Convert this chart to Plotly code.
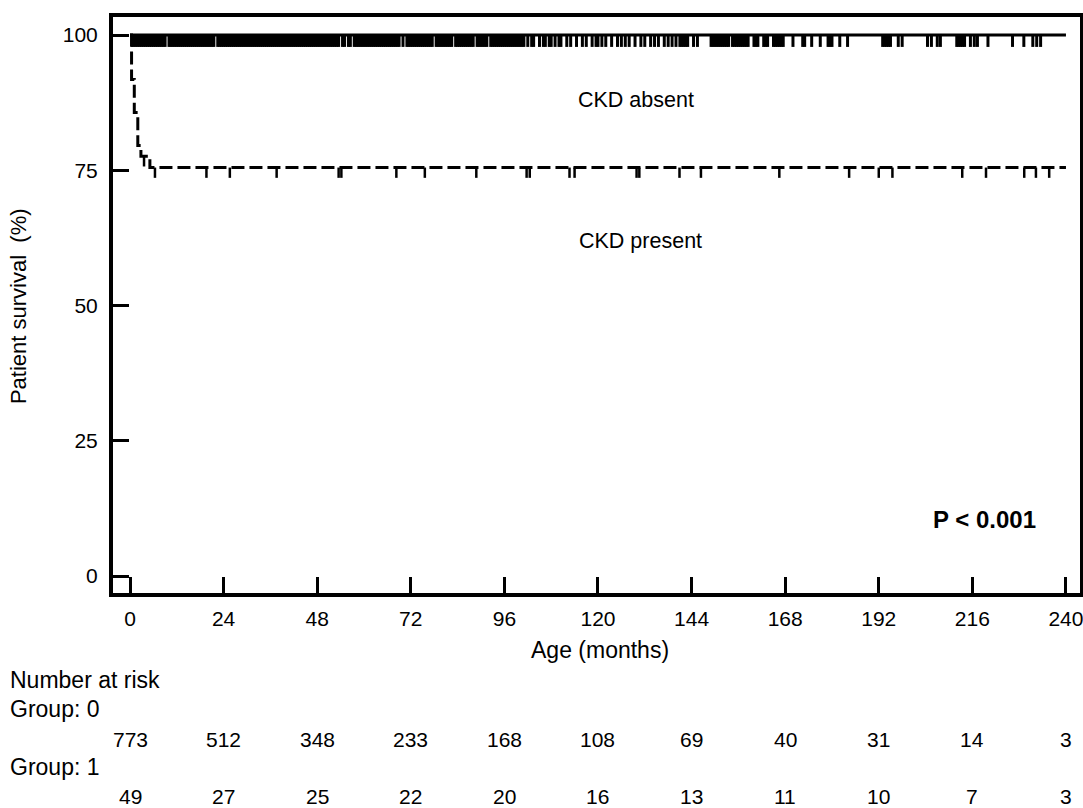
import plotly.graph_objects as go

# ---------------- data ----------------
x_ticks = [0, 24, 48, 72, 96, 120, 144, 168, 192, 216, 240]
y_ticks = [0, 25, 50, 75, 100]

# CKD absent (group 0) Kaplan-Meier curve
absent_t = [0, 240]
absent_s = [100, 100]
absent_censor = [
    0.5, 1, 1.5, 2, 2.5, 3, 3.5, 4, 4.5, 5,
    5.5, 6, 6.5, 7, 7.5, 8, 8.5, 9, 10, 10.5,
    11, 11.5, 12, 12.5, 13, 13.5, 14, 14.5, 15, 15.5,
    16, 16.5, 17, 17.5, 18, 18.5, 19, 19.5, 20, 20.5,
    21, 21.5, 22.5, 23, 23.5, 24, 24.5, 25, 25.5, 26,
    26.5, 27, 27.5, 28, 28.5, 29, 29.5, 30, 30.5, 31,
    31.5, 32, 32.5, 33, 33.5, 34, 34.5, 35, 35.5, 36,
    36.5, 37, 37.5, 38, 38.5, 39, 39.5, 40, 40.5, 41,
    41.5, 42, 42.5, 43, 43.5, 44, 44.5, 45, 45.5, 46,
    46.5, 47, 47.5, 48, 48.5, 49, 49.5, 50, 50.5, 51,
    51.5, 52, 52.5, 53, 53.5, 54.5, 55, 56, 56.5, 57.5,
    58, 58.5, 59, 59.5, 60, 60.5, 61, 61.5, 62, 62.5,
    63, 63.5, 64, 64.5, 65, 65.5, 66, 66.5, 67, 67.5,
    68, 68.5, 69, 70, 71, 71.5, 72, 72.5, 73, 73.5,
    74, 74.5, 75, 75.5, 76, 76.5, 77, 77.5, 78.5, 79,
    79.5, 80, 80.5, 81, 81.5, 82, 82.5, 83.5, 84, 84.5,
    85, 85.5, 86, 86.5, 87, 87.5, 88, 89, 89.5, 90,
    90.5, 91, 91.5, 92.5, 93, 93.5, 94, 94.5, 95, 95.5,
    96, 96.5, 97, 97.5, 98, 98.5, 99, 99.5, 100,
    100.5, 101, 102, 103, 103.5, 105, 106, 106.5, 107.5, 108,
    109, 110, 110.5, 112, 113, 114.5, 116, 117, 118.5, 119.5,
    120, 121, 122, 123.5, 125, 126, 127, 128, 129.5, 131,
    132, 133.5, 134.5, 135.5, 137, 138, 139, 140,
    141, 141.5, 142, 142.5, 143, 144.5, 145.5, 149, 149.5, 150,
    150.5, 151, 151.5, 152, 152.5, 153, 153.5, 154.5, 155, 155.5,
    156, 156.5, 157, 157.5, 158, 158.5, 160, 160.5, 161, 162.5,
    163, 163.5, 165, 165.5, 166, 166.5, 167, 167.5, 170, 172.5,
    173, 174.8, 177, 179, 179.5, 180, 182, 184,
    193, 193.5, 194, 194.5, 195, 197, 198, 204.5, 205.5, 207,
    207.8, 212, 212.5, 213, 213.5, 214, 215.5, 216.5, 217.3, 220,
    226.3, 229.2, 231.5, 232.5, 233.5,
]

# CKD present (group 1) Kaplan-Meier curve
present_t = [0, 0.4, 1.1, 2.0, 2.8, 5.1, 240]
present_s = [100, 91.8, 85.7, 79.6, 77.6, 75.5, 75.5]
present_censor = [3.6, 6.4, 19.6, 25.6, 37.6, 53.5, 54.2, 68.3, 75.6, 88.8,
                  101.7, 102.5, 112.7, 114, 129.9, 130.6, 140.9, 146.4, 166.5,
                  184.4, 192, 195.5, 213.4, 219.5, 229.3, 232.3, 235.7]

# number at risk
risk_times = [0, 24, 48, 72, 96, 120, 144, 168, 192, 216, 240]
risk_group0 = [773, 512, 348, 233, 168, 108, 69, 40, 31, 14, 3]
risk_group1 = [49, 27, 25, 22, 20, 16, 13, 11, 10, 7, 3]


def km_value(times, surv, t):
    v = surv[0]
    for ti, si in zip(times, surv):
        if ti <= t:
            v = si
    return v


FONT = "Liberation Sans, Arial, sans-serif"
FS = 21
LABEL_FS = 23
fig = go.Figure()

fig.add_trace(go.Scatter(x=absent_t, y=absent_s, mode="lines", line=dict(color="black", width=3, shape="hv"),
                         showlegend=False, hoverinfo="skip"))
fig.add_trace(go.Scatter(x=present_t, y=present_s, mode="lines",
                         line=dict(color="black", width=3, shape="hv", dash="13px,5px"),
                         showlegend=False, hoverinfo="skip"))

# censoring ticks drawn as one-sided error bars hanging below the curves
c0y = [km_value(absent_t, absent_s, t) for t in absent_censor]
fig.add_trace(go.Scatter(x=absent_censor, y=c0y, mode="markers", marker=dict(size=0.1, color="rgba(0,0,0,0)"),
                         error_y=dict(type="data", symmetric=False, array=[0] * len(c0y),
                                      arrayminus=[2.2] * len(c0y), thickness=3, width=0, color="black"),
                         showlegend=False, hoverinfo="skip"))
c1y = [km_value(present_t, present_s, t) for t in present_censor]
fig.add_trace(go.Scatter(x=present_censor, y=c1y, mode="markers", marker=dict(size=0.1, color="rgba(0,0,0,0)"),
                         error_y=dict(type="data", symmetric=False, array=[0] * len(c1y),
                                      arrayminus=[1.9] * len(c1y), thickness=2.5, width=0, color="black"),
                         showlegend=False, hoverinfo="skip"))

fig.update_layout(
    width=1083, height=808,
    margin=dict(l=113, r=3, t=17, b=215, autoexpand=False),
    paper_bgcolor="white", plot_bgcolor="white",
    font=dict(family=FONT, size=FS, color="black"),
    xaxis=dict(range=[-4.36, 243.6], tickvals=x_ticks, ticktext=[str(v) for v in x_ticks],
               ticks="inside", ticklen=16, tickwidth=3, tickcolor="black",
               showline=True, linewidth=4, linecolor="black", mirror=True,
               showgrid=False, zeroline=False, ticklabelstandoff=4, automargin=False,
               ticklabeloverflow="allow", tickfont=dict(size=FS)),
    yaxis=dict(range=[-3.14, 103.33], tickvals=y_ticks, ticktext=[str(v) for v in y_ticks],
               ticks="inside", ticklen=16, tickwidth=3, tickcolor="black",
               showline=True, linewidth=4, linecolor="black", mirror=True,
               showgrid=False, zeroline=False, ticklabelstandoff=7, automargin=False,
               ticklabeloverflow="allow", tickfont=dict(size=FS)),
)

annotations = [
    dict(x=129.7, y=88.0, xref="x", yref="y", text="CKD absent", showarrow=False, font=dict(size=21.5)),
    dict(x=130.8, y=61.9, xref="x", yref="y", text="CKD present", showarrow=False, font=dict(size=21.5)),
    dict(x=219.2, y=10.5, xref="x", yref="y", text="<b>P &lt; 0.001</b>", showarrow=False, font=dict(size=24)),
    dict(x=120.5, y=0, xref="x", yref="paper", yanchor="middle", yshift=-57,
         text="Age (months)", showarrow=False, font=dict(size=LABEL_FS)),
    dict(x=0, y=49.9, xref="paper", yref="y", xanchor="center", yanchor="middle", xshift=-95,
         text="Patient survival  (%)", textangle=-90, showarrow=False, font=dict(size=22)),
    dict(x=0, y=0, xref="paper", yref="paper", xanchor="left", yanchor="middle", xshift=-105, yshift=-87,
         text="Number at risk", showarrow=False, font=dict(size=LABEL_FS)),
    dict(x=0, y=0, xref="paper", yref="paper", xanchor="left", yanchor="middle", xshift=-105, yshift=-116,
         text="Group: 0", showarrow=False, font=dict(size=LABEL_FS)),
    dict(x=0, y=0, xref="paper", yref="paper", xanchor="left", yanchor="middle", xshift=-105, yshift=-174,
         text="Group: 1", showarrow=False, font=dict(size=LABEL_FS)),
]
for t, n in zip(risk_times, risk_group0):
    annotations.append(dict(x=t, y=0, xref="x", yref="paper", yanchor="middle", yshift=-146,
                            text=str(n), showarrow=False))
for t, n in zip(risk_times, risk_group1):
    annotations.append(dict(x=t, y=0, xref="x", yref="paper", yanchor="middle", yshift=-203,
                            text=str(n), showarrow=False))
fig.update_layout(annotations=annotations)

fig.write_html("out.html", config={"displayModeBar": False},
               post_script="document.body.style.margin='0';document.body.style.overflow='hidden';")
